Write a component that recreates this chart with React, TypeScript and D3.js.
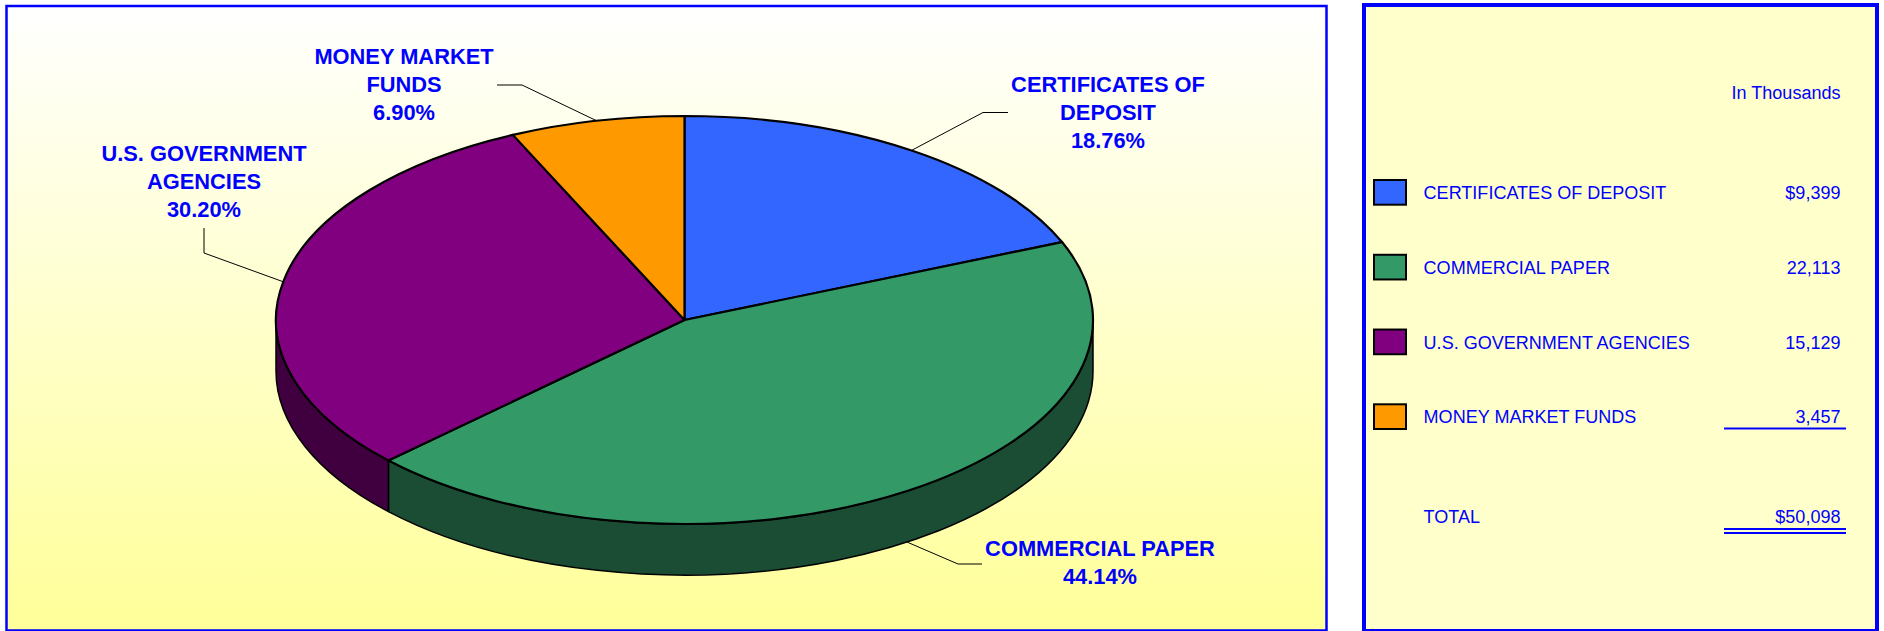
import React from 'react'
import * as d3 from 'd3'

const categories = ['CERTIFICATES OF DEPOSIT', 'COMMERCIAL PAPER', 'U.S. GOVERNMENT AGENCIES', 'MONEY MARKET FUNDS']
const amounts = [9399, 22113, 15129, 3457]
const amountLabels = ['$9,399', '22,113', '15,129', '3,457']
const percentLabels = ['18.76%', '44.14%', '30.20%', '6.90%']
const labelLines = [['CERTIFICATES OF', 'DEPOSIT'], ['COMMERCIAL PAPER'], ['U.S. GOVERNMENT', 'AGENCIES'], ['MONEY MARKET', 'FUNDS']]
const topColors = ['#3366FF', '#339966', '#800080', '#FF9900']
const sideColors = ['#1A3380', '#1A4D33', '#400040', '#804D00']
const totalLabel = '$50,098'

const width = 1884, height = 631
const cx = 684.5, cy = 320, rx = 408.5, ry = 204, depth = 51

// label placement: x centre, first baseline, and the elbow of the leader line
const labelPos = [
  { x: 1108, y: 92, elbow: [983, 112.5], end: [1008, 112.5] },
  { x: 1100, y: 556, elbow: [958, 564], end: [982, 564] },
  { x: 204, y: 160.5, elbow: [204, 253], end: [204, 228] },
  { x: 404, y: 63.5, elbow: [522, 85], end: [497, 85] },
]

const pie = d3.pie<number>().sort(null).startAngle(0).endAngle(2 * Math.PI)
const slices = pie(amounts)
const arc = d3.arc<d3.PieArcDatum<number>>().innerRadius(0).outerRadius(rx)

const rim = (a: number, dy = 0): [number, number] => [cx + rx * Math.sin(a), cy - ry * Math.cos(a) + dy]

// front wall of one slice, only the part between 3 and 9 o'clock can be seen
function wallPath(d: d3.PieArcDatum<number>) {
  const a0 = Math.max(d.startAngle, Math.PI / 2)
  const a1 = Math.min(d.endAngle, (3 * Math.PI) / 2)
  if (a1 <= a0) return null
  const p0 = rim(a0), p1 = rim(a1), q0 = rim(a0, depth), q1 = rim(a1, depth)
  return `M${p0}A${rx},${ry} 0 0 1 ${p1}L${q1}A${rx},${ry} 0 0 0 ${q0}Z`
}

const rowY = d3.scaleLinear().domain([0, 3]).range([199, 423.3])
const leader = d3.line()

export default function App() {
  return (
    <svg width={width} height={height} style={{ position: 'absolute', left: 0, top: 0, fontFamily: '"Liberation Sans", Arial, sans-serif' }}>
      <defs>
        <linearGradient id="bg" x1="0" y1="0" x2="0" y2="1">
          <stop offset="0" stopColor="#FFFFFF" />
          <stop offset="1" stopColor="#FFFF99" />
        </linearGradient>
      </defs>

      <rect x={6.5} y={6} width={1320} height={624.5} fill="url(#bg)" stroke="#0000FF" strokeWidth={2.5} />

      {slices.map((d, i) => {
        const w = wallPath(d)
        return w ? <path key={i} d={w} fill={sideColors[i]} stroke="#000" strokeWidth={1.5} strokeLinejoin="round" /> : null
      })}

      <g transform={`translate(${cx},${cy}) scale(1,${ry / rx})`}>
        {slices.map((d, i) => (
          <path key={i} d={arc(d) as string} fill={topColors[i]} stroke="#000" strokeWidth={2.2} strokeLinejoin="round" style={{ vectorEffect: 'non-scaling-stroke' }} />
        ))}
      </g>

      {slices.map((d, i) => {
        const mid = (d.startAngle + d.endAngle) / 2
        const onWall = mid > Math.PI / 2 && mid < (3 * Math.PI) / 2
        const pos = labelPos[i]
        return (
          <g key={i}>
            <path d={leader([rim(mid, onWall ? depth : 0), pos.elbow as [number, number], pos.end as [number, number]]) as string} fill="none" stroke="#000" strokeWidth={1} />
            <text x={pos.x} y={pos.y} textAnchor="middle" fill="#0000FF" fontWeight="bold" fontSize={21.85}>
              {[...labelLines[i], percentLabels[i]].map((t, j) => (
                <tspan key={j} x={pos.x} dy={j === 0 ? 0 : 28.2}>{t}</tspan>
              ))}
            </text>
          </g>
        )
      })}

      <rect x={1364} y={5} width={513} height={626} fill="#FFFFCC" stroke="#0000FF" strokeWidth={4} />
      <g fill="#0000FF" fontSize={18.05}>
        <text x={1840.5} y={99} textAnchor="end">In Thousands</text>
        {categories.map((c, i) => (
          <g key={c}>
            <rect x={1374} y={rowY(i) - 19} width={32} height={24.7} fill={topColors[i]} stroke="#000" strokeWidth={2} />
            <text x={1423.6} y={rowY(i)}>{c}</text>
            <text x={1840.5} y={rowY(i)} textAnchor="end">{amountLabels[i]}</text>
          </g>
        ))}
        <text x={1423.6} y={523}>TOTAL</text>
        <text x={1840.5} y={523} textAnchor="end">{totalLabel}</text>
      </g>
      <g stroke="#0000FF" strokeWidth={2}>
        <line x1={1724} x2={1846} y1={428.5} y2={428.5} />
        <line x1={1724} x2={1846} y1={529} y2={529} />
        <line x1={1724} x2={1846} y1={533} y2={533} />
      </g>
    </svg>
  )
}
